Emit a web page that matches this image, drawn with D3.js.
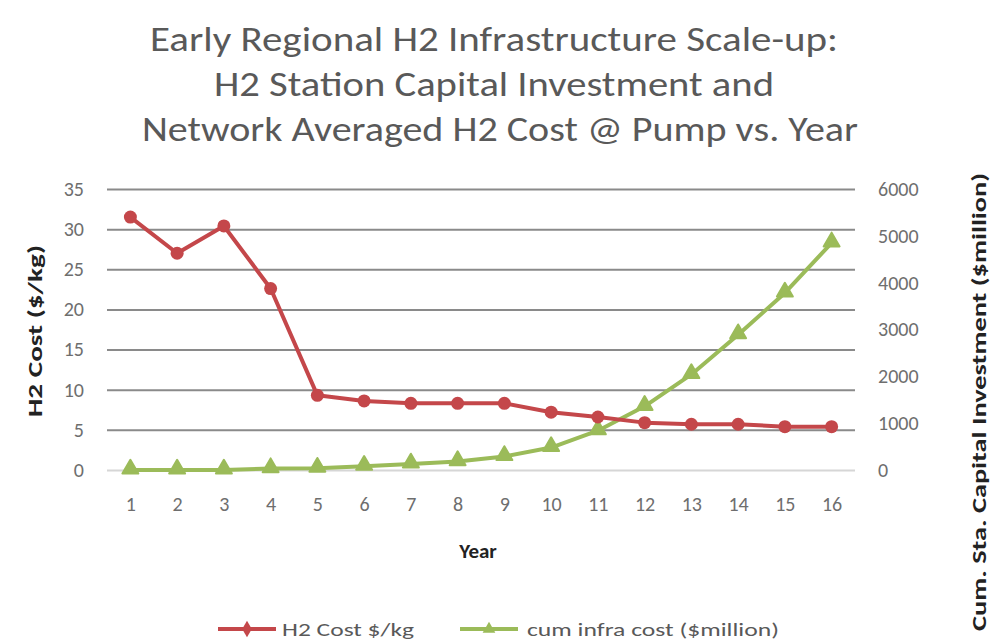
<!DOCTYPE html>
<html>
<head>
<meta charset="utf-8">
<script src="https://cdn.jsdelivr.net/npm/d3@7"></script>
<style>
  html, body { margin: 0; padding: 0; background: #fff; }
  svg { display: block; }
  text { font-family: Carlito, "Liberation Sans Narrow", "Open Sans", Lato, sans-serif; }
</style>
</head>
<body>
<svg id="chart" width="1005" height="643"></svg>
<script>
// Years on the horizontal axis
const years = [1, 2, 3, 4, 5, 6, 7, 8, 9, 10, 11, 12, 13, 14, 15, 16];
// Network averaged H2 cost at the pump ($/kg), left axis
const h2Cost = [31.5, 27.0, 30.4, 22.6, 9.3, 8.6, 8.3, 8.3, 8.3, 7.2, 6.6, 5.9, 5.7, 5.7, 5.4, 5.4];
// Cumulative station capital investment ($million), right axis
const cumInfra = [0, 0, 0, 30, 40, 80, 130, 180, 290, 480, 840, 1360, 2040, 2890, 3780, 4850];
// Tick values for both value axes
const leftTicks = [0, 5, 10, 15, 20, 25, 30, 35];
const rightTicks = [0, 1000, 2000, 3000, 4000, 5000, 6000];
const titleLines = [
  "Early Regional H2 Infrastructure Scale-up:",
  "H2 Station Capital  Investment and",
  "Network Averaged H2 Cost @ Pump  vs. Year"
];
const seriesNames = ["H2 Cost $/kg", "cum infra cost ($million)"];

const svg = d3.select("#chart");
const red = "#c4474a", green = "#9bbb59", textGray = "#595959", tickGray = "#6e6e6e";

const plot = { left: 107, right: 855, top: 189, bottom: 470 };

const x = d3.scalePoint().domain(years).range([plot.left, plot.right]).padding(0.5);
const yL = d3.scaleLinear().domain([0, 35]).range([plot.bottom, plot.top]);
const yR = d3.scaleLinear().domain([0, 6000]).range([plot.bottom, plot.top]);

// Title
const titleWidths = [688, 560, 716];
const titleX = [494, 494, 500];
svg.append("g").selectAll("text").data(titleLines).join("text")
  .attr("x", (d, i) => titleX[i])
  .attr("y", (d, i) => 51 + i * 45)
  .attr("text-anchor", "middle")
  .attr("font-size", 34)
  .attr("fill", textGray)
  .attr("textLength", (d, i) => titleWidths[i])
  .attr("lengthAdjust", "spacingAndGlyphs")
  .text(d => d);

// Horizontal gridlines from the left axis
const grid = svg.append("g")
  .attr("transform", `translate(${plot.left},0)`)
  .call(d3.axisLeft(yL).tickValues(leftTicks).tickSize(-(plot.right - plot.left)).tickFormat(""));
grid.select(".domain").remove();
grid.selectAll(".tick line")
  .attr("stroke", d => d === 0 ? "#d6d6d6" : "#8a8a8a")
  .attr("stroke-width", 2);

const tickFont = "Carlito, 'Liberation Sans Narrow', 'Open Sans', sans-serif";

// Left axis labels
const axL = svg.append("g")
  .attr("transform", "translate(84,0)")
  .call(d3.axisLeft(yL).tickValues(leftTicks).tickSize(0).tickPadding(0));
axL.select(".domain").remove();
axL.selectAll("text").attr("font-size", 20).attr("fill", tickGray).style("font-family", tickFont);

// Right axis labels
const axR = svg.append("g")
  .attr("transform", "translate(878,0)")
  .call(d3.axisRight(yR).tickValues(rightTicks).tickFormat(d3.format("d")).tickSize(0).tickPadding(0));
axR.select(".domain").remove();
axR.selectAll("text").attr("font-size", 20).attr("fill", tickGray).style("font-family", tickFont);

// Bottom axis labels
const axB = svg.append("g")
  .attr("transform", "translate(0,497)")
  .call(d3.axisBottom(x).tickSize(0).tickPadding(0));
axB.select(".domain").remove();
axB.selectAll("text").attr("font-size", 20).attr("fill", tickGray).style("font-family", tickFont);

// Axis titles
svg.append("text")
  .attr("transform", "translate(42,331) rotate(-90)")
  .attr("text-anchor", "middle")
  .attr("font-size", 20).attr("font-weight", "bold").attr("fill", "#222")
  .attr("textLength", 172).attr("lengthAdjust", "spacingAndGlyphs")
  .text("H2 Cost ($/kg)");

svg.append("text")
  .attr("transform", "translate(986,402) rotate(-90)")
  .attr("text-anchor", "middle")
  .attr("font-size", 20).attr("font-weight", "bold").attr("fill", "#222")
  .attr("textLength", 458).attr("lengthAdjust", "spacingAndGlyphs")
  .text("Cum. Sta. Capital Investment ($million)");

svg.append("text")
  .attr("x", 478).attr("y", 558)
  .attr("text-anchor", "middle")
  .attr("font-size", 21).attr("font-weight", "bold").attr("fill", "#222")
  .text("Year");

// Series lines
const lineL = d3.line().x((d, i) => x(years[i])).y(d => yL(d));
const lineR = d3.line().x((d, i) => x(years[i])).y(d => yR(d));

svg.append("path").datum(cumInfra)
  .attr("d", lineR).attr("fill", "none")
  .attr("stroke", green).attr("stroke-width", 4).attr("stroke-linejoin", "round");

svg.append("path").datum(h2Cost)
  .attr("d", lineL).attr("fill", "none")
  .attr("stroke", red).attr("stroke-width", 4).attr("stroke-linejoin", "round");

// Markers
const tri = d3.symbol().type(d3.symbolTriangle).size(110);

svg.append("g").selectAll("path").data(cumInfra).join("path")
  .attr("transform", (d, i) => `translate(${x(years[i])},${yR(d) - 1})`)
  .attr("d", tri).attr("fill", green).attr("stroke", green).attr("stroke-width", 2)
  .attr("stroke-linejoin", "round");

svg.append("g").selectAll("circle").data(h2Cost).join("circle")
  .attr("cx", (d, i) => x(years[i]))
  .attr("cy", d => yL(d))
  .attr("r", 6.5)
  .attr("fill", red);

// Legend
const legend = svg.append("g");
const legendItems = [
  { name: seriesNames[0], color: red, x0: 218, tx: 282, tl: 132, shape: "d" },
  { name: seriesNames[1], color: green, x0: 460, tx: 527, tl: 252, shape: "t" }
];
legendItems.forEach(it => {
  legend.append("line")
    .attr("x1", it.x0).attr("x2", it.x0 + 58)
    .attr("y1", 629).attr("y2", 629)
    .attr("stroke", it.color).attr("stroke-width", 4);
  legend.append("path")
    .attr("transform", `translate(${it.x0 + 29},629)`)
    .attr("d", it.shape === "d" ? d3.symbol().type(d3.symbolDiamond).size(80)() : d3.symbol().type(d3.symbolTriangle).size(70)())
    .attr("fill", it.color);
  legend.append("text")
    .attr("x", it.tx).attr("y", 636)
    .attr("font-size", 19).attr("fill", textGray)
    .attr("textLength", it.tl).attr("lengthAdjust", "spacingAndGlyphs")
    .text(it.name);
});
</script>
</body>
</html>
